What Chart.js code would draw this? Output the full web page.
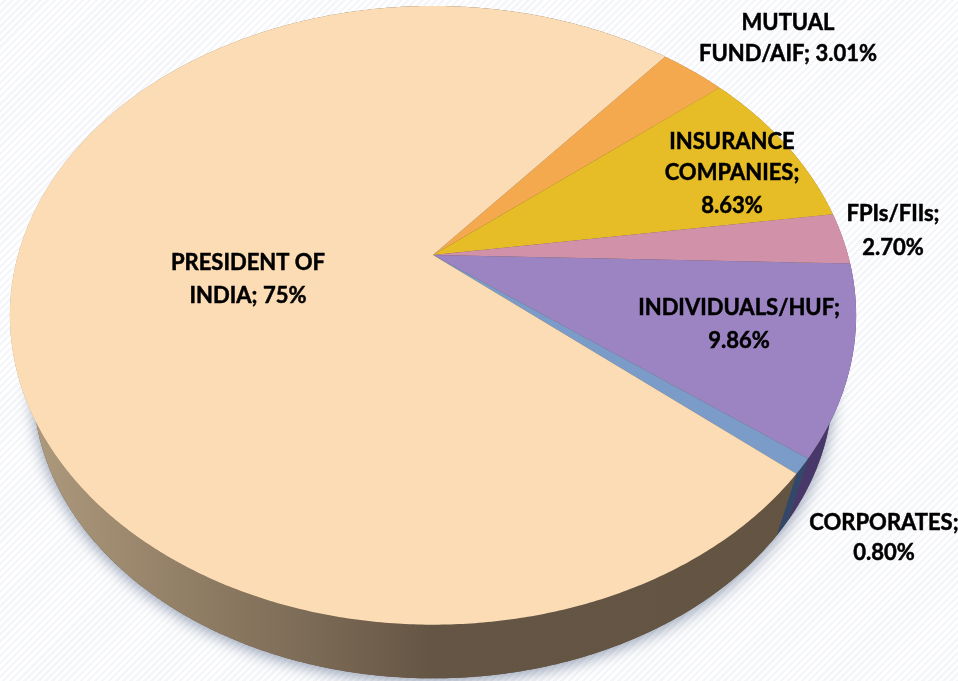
<!DOCTYPE html>
<html>
<head>
<meta charset="utf-8">
<script src="https://cdn.jsdelivr.net/npm/chart.js@4"></script>
<style>
html,body{margin:0;padding:0;width:958px;height:681px;overflow:hidden;
background:repeating-linear-gradient(135deg,#ffffff 0,#ffffff 2.5px,#f5f6f9 2.5px,#f5f6f9 5px);}
#wrap{position:absolute;left:0;top:0;width:958px;height:681px;}
</style>
</head>
<body>
<div id="wrap"><canvas id="c" width="958" height="681"></canvas></div>
<script>
const categories = ["MUTUAL FUND/AIF","INSURANCE COMPANIES","FPIs/FIIs","INDIVIDUALS/HUF","CORPORATES","PRESIDENT OF INDIA"];
const shares = [3.01, 8.63, 2.70, 9.86, 0.80, 75];
const topColors = ["#f4a94e","#e6bc27","#d191a8","#9c84c3","#7b9cc8","#fbdcb4"];
const sideColors = ["#8f6a38","#8a7020","#7a5060","#48386a","#32486a",null];
const sideStops = [[0.03,"#ae9b7e"],[0.16,"#97846a"],[0.32,"#7c6b56"],[0.45,"#655544"],[1,"#635341"]];
const labelBlocks = [
  {lines:["MUTUAL","FUND/AIF; 3.01%"], x:788, y:[23,54]},
  {lines:["INSURANCE","COMPANIES;","8.63%"], x:732, y:[142,173,206]},
  {lines:["FPIs/FIIs;","2.70%"], x:893, y:[214,248]},
  {lines:["INDIVIDUALS/HUF;","9.86%"], x:739, y:[308,341]},
  {lines:["CORPORATES;","0.80%"], x:884, y:[523,553]},
  {lines:["PRESIDENT OF","INDIA; 75%"], x:248, y:[263,296]}
];

// perspective of the tilted disc
const K = 0.195, AX = 415/255, BY = 297.6/255, LOWER = 0.945, DROP = 74/255;
function rim(el, t, lower){
  const w = 1 - K*Math.sin(t), r = el.outerRadius, s = lower ? LOWER : 1;
  return [el.x + s*AX*r*Math.cos(t)/w, el.y + (lower ? DROP*r : 0) + s*BY*r*Math.sin(t)/w];
}
function sweep(ctx, el, a, b, lower, move){
  const n = Math.max(2, Math.ceil(Math.abs(b-a)/0.008));
  for(let i=0;i<=n;i++){
    const p = rim(el, a+(b-a)*i/n, lower);
    if(i===0 && move) ctx.moveTo(p[0],p[1]); else ctx.lineTo(p[0],p[1]);
  }
}
const tiltedPie = {
  id:'tiltedPie',
  beforeDatasetDraw(chart){
    const ctx = chart.ctx, arcs = chart.getDatasetMeta(0).data;
    ctx.save();
    // soft shadow below the disc
    const e0 = arcs[0];
    ctx.save();
    ctx.shadowColor = 'rgba(70,90,125,0.6)';
    ctx.shadowBlur = 16; ctx.shadowOffsetY = 3;
    ctx.fillStyle = '#635341';
    ctx.beginPath(); sweep(ctx,e0,0,Math.PI*2,true,true); ctx.closePath(); ctx.fill();
    ctx.restore();
    // side wall
    const grad = ctx.createLinearGradient(0,0,958,0);
    sideStops.forEach(s=>grad.addColorStop(s[0],s[1]));
    arcs.forEach((el,i)=>{
      ctx.fillStyle = sideColors[i] || grad;
      ctx.beginPath();
      sweep(ctx,el,el.startAngle,el.endAngle,false,true);
      sweep(ctx,el,el.endAngle,el.startAngle,true,false);
      ctx.closePath(); ctx.fill();
    });
    // top face
    arcs.forEach((el,i)=>{
      ctx.fillStyle = topColors[i];
      ctx.beginPath();
      ctx.moveTo(el.x,el.y);
      sweep(ctx,el,el.startAngle,el.endAngle,false,false);
      ctx.closePath(); ctx.fill();
    });
    ctx.restore();
    return false;
  },
  afterDatasetsDraw(chart){
    const ctx = chart.ctx;
    ctx.save();
    ctx.fillStyle = '#000';
    ctx.strokeStyle = '#000';
    ctx.lineWidth = 0.5;
    ctx.font = 'bold 22px Lato';
    ctx.textAlign = 'center';
    ctx.textBaseline = 'middle';
    labelBlocks.forEach(b=>b.lines.forEach((t,i)=>{
      ctx.fillText(t,b.x,b.y[i]);
      ctx.strokeText(t,b.x,b.y[i]);
    }));
    ctx.restore();
  }
};
new Chart(document.getElementById('c'),{
  type:'pie',
  data:{labels:categories,datasets:[{data:shares,backgroundColor:topColors,borderWidth:0}]},
  options:{
    responsive:false,animation:false,rotation:40,
    layout:{padding:{left:0,top:0,right:92,bottom:171}},
    plugins:{legend:{display:false},tooltip:{enabled:false}}
  },
  plugins:[tiltedPie]
});
</script>
</body>
</html>
